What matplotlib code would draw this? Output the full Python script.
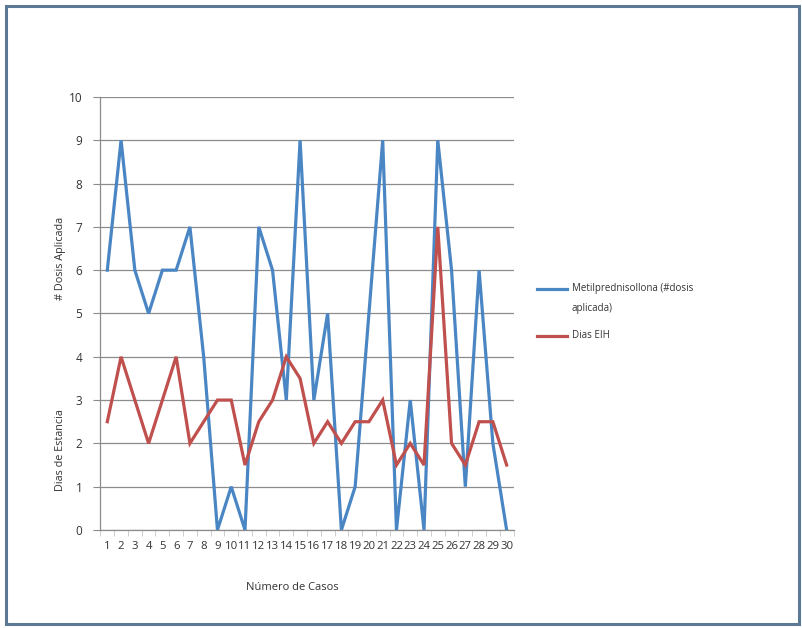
import numpy as np
import matplotlib
matplotlib.use("Agg")
import matplotlib.pyplot as plt
from matplotlib.lines import Line2D
from matplotlib.patches import Rectangle

plt.rcParams['font.family'] = ['Open Sans', 'DejaVu Sans']

casos = list(range(1, 31))
metilpred = [6, 9, 6, 5, 6, 6, 7, 4, 0, 1, 0, 7, 6, 3, 9, 3, 5, 0, 1, 5,
             9, 0, 3, 0, 9, 6, 1, 6, 2, 0]
dias_eih = [2.5, 4, 3, 2, 3, 4, 2, 2.5, 3, 3, 1.5, 2.5, 3, 4, 3.5, 2, 2.5, 2, 2.5, 2.5,
            3, 1.5, 2, 1.5, 7, 2, 1.5, 2.5, 2.5, 1.5]
y_ticks = list(range(0, 11))
series_names = [["Metilprednisollona (#dosis", "aplicada)"], ["Dias EIH"]]

BLUE = "#4a86c4"
RED = "#c0504d"
GRID = "#8c8c8c"
TXT = "#333333"

W, H = 802, 628
fig = plt.figure(figsize=(W / 100, H / 100), dpi=100)
ax = fig.add_axes([0.1252, 0.1561, 0.5151, 0.6895])

ax.plot(casos, metilpred, color=BLUE, lw=2.3, solid_joinstyle="miter", zorder=3)
ax.plot(casos, dias_eih, color=RED, lw=2.3, solid_joinstyle="miter", zorder=3)

ax.set_xlim(0.5, 30.5)
ax.set_ylim(0, 10)
ax.set_yticks(y_ticks)
ax.set_yticklabels([str(v) for v in y_ticks], fontsize=8.5, color=TXT)
ax.yaxis.grid(True, color=GRID, lw=0.9)
ax.set_axisbelow(True)

# category labels in the middle, tick marks on the boundaries
ax.set_xticks(casos)
ax.set_xticklabels([str(c) for c in casos], fontsize=8.2, color=TXT)
ax.tick_params(axis="x", which="major", length=0, pad=8)
ax.set_xticks(np.arange(0.5, 31, 1), minor=True)
ax.tick_params(axis="x", which="minor", length=4, color="#c8c8c8", direction="out")
ax.tick_params(axis="y", length=5, color=GRID, pad=8)

for s in ("top", "right"):
    ax.spines[s].set_visible(False)
for s in ("left", "bottom"):
    ax.spines[s].set_color(GRID)
    ax.spines[s].set_linewidth(0.9)

fig.text(0.076, 0.589, "# Dosis Aplicada", rotation=90, ha="center", va="center",
         fontsize=7.8, color=TXT)
fig.text(0.076, 0.283, "Dias de Estancia", rotation=90, ha="center", va="center",
         fontsize=7.8, color=TXT)
fig.text(0.364, 0.064, "Número de Casos", ha="center", va="center",
         fontsize=8, color=TXT)

# legend, sample line level with the first text line of each entry
def px(x, y):
    return x / W, 1 - y / H

for color, lines, y0 in [(BLUE, series_names[0], 289), (RED, series_names[1], 336)]:
    (x1, yy), (x2, _) = px(537, y0), px(567, y0)
    fig.lines.append(Line2D([x1, x2], [yy, yy], transform=fig.transFigure,
                            color=color, lw=2.3))
    for i, s in enumerate(lines):
        tx, ty = px(572, y0 + 19 * i)
        fig.text(tx, ty, s, ha="left", va="center", fontsize=7, color=TXT)

fig.patches.append(Rectangle((0.008, 0.006), 0.988, 0.985, transform=fig.transFigure,
                             fill=False, edgecolor="#5c7893", lw=2.2))

fig.savefig("out.png", dpi=100)
